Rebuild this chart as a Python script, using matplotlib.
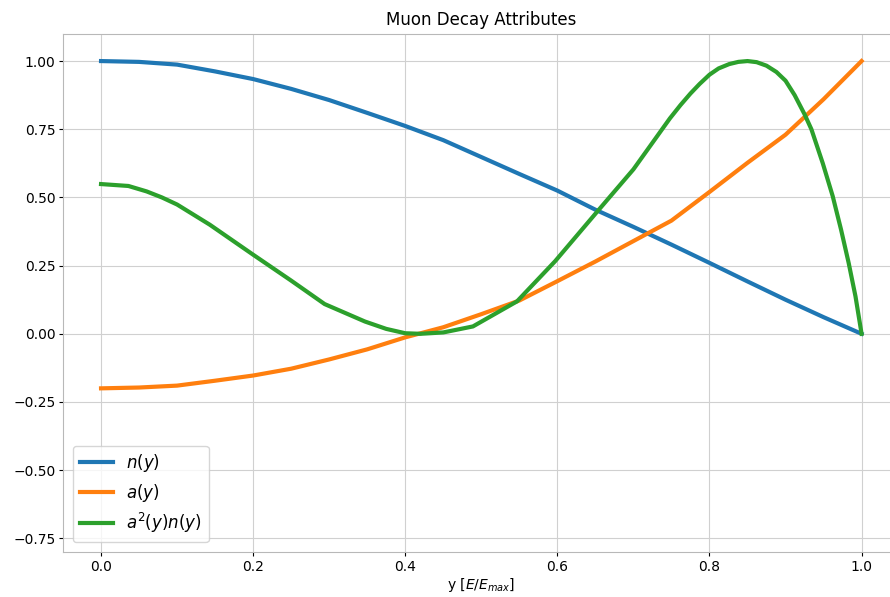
import matplotlib
matplotlib.use("Agg")
import matplotlib.pyplot as plt

# values
x_n = [0.0, 0.05, 0.1, 0.15, 0.2, 0.25, 0.3, 0.35, 0.4, 0.45, 0.5, 0.55,
       0.6, 0.65, 0.7, 0.75, 0.8, 0.85, 0.9, 0.95, 1.0]
n_y = [1.0, 0.997, 0.987, 0.962, 0.934, 0.898, 0.857, 0.81, 0.762, 0.71,
       0.648, 0.586, 0.525, 0.455, 0.392, 0.327, 0.26, 0.192, 0.125, 0.061, 0.0]

x_a = [0.0, 0.05, 0.1, 0.15, 0.2, 0.25, 0.3, 0.35, 0.4, 0.45, 0.5, 0.55,
       0.6, 0.65, 0.7, 0.75, 0.8, 0.85, 0.9, 0.95, 1.0]
a_y = [-0.2, -0.197, -0.19, -0.172, -0.153, -0.128, -0.094, -0.057, -0.013,
       0.024, 0.072, 0.122, 0.193, 0.265, 0.34, 0.415, 0.52, 0.627, 0.73, 0.86, 1.0]

x_g = [0.0, 0.036, 0.06, 0.08, 0.1, 0.143, 0.2, 0.25, 0.294, 0.347, 0.375,
       0.4, 0.42, 0.45, 0.489, 0.547, 0.597, 0.653, 0.7, 0.748, 0.762, 0.775,
       0.787, 0.8, 0.812, 0.826, 0.838, 0.85, 0.862, 0.875, 0.888, 0.9,
       0.912, 0.925, 0.934, 0.949, 0.962, 0.973, 0.983, 0.992, 1.0]
g_y = [0.549, 0.542, 0.522, 0.5, 0.474, 0.40, 0.29, 0.195, 0.109, 0.045,
       0.018, 0.002, 0.0, 0.005, 0.027, 0.119, 0.266, 0.45, 0.603, 0.79,
       0.839, 0.881, 0.916, 0.95, 0.973, 0.989, 0.997, 1.0, 0.996, 0.983,
       0.96, 0.928, 0.875, 0.805, 0.75, 0.625, 0.505, 0.382, 0.26, 0.137, 0.0]

fig = plt.figure(figsize=(8.9, 5.97), dpi=100)
ax = fig.add_axes([0.0708, 0.0754, 0.94, 0.868])

ax.plot(x_n, n_y, lw=3, color="#1f77b4", label="$n(y)$")
ax.plot(x_a, a_y, lw=3, color="#ff7f0e", label="$a(y)$")
ax.plot(x_g, g_y, lw=3, color="#2ca02c", label="$a^2(y)n(y)$")

ax.set_xlim(-0.05, 1.05)
ax.set_ylim(-0.8, 1.1)
ax.set_yticks([-0.75, -0.5, -0.25, 0.0, 0.25, 0.5, 0.75, 1.0])
ax.grid(True, color="#d0d0d0", lw=0.8)
ax.set_axisbelow(True)
for s in ax.spines.values():
    s.set_color("#b8b8b8")

ax.set_title("Muon Decay Attributes", fontsize=12)
ax.set_xlabel("y [$E/E_{max}$]", fontsize=10, labelpad=2)
ax.tick_params(labelsize=10, pad=2.5, length=3)
ax.legend(loc="lower left", fontsize=12, handlelength=2.0,
          labelspacing=0.45, borderaxespad=0.6)

fig.savefig("out.png", dpi=100)
